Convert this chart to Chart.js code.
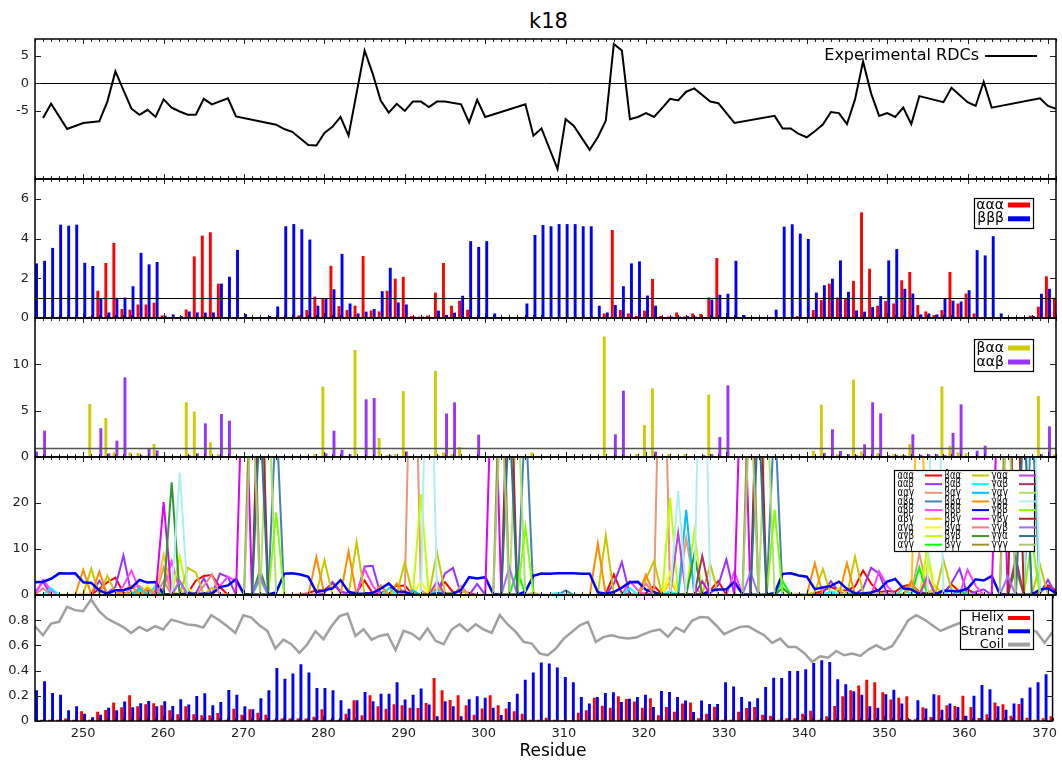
<!DOCTYPE html>
<html>
<head>
<meta charset="utf-8">
<script src="https://cdn.jsdelivr.net/npm/chart.js@4.4.1/dist/chart.umd.min.js"></script>
<style>
body { margin: 0; background: #fff; width: 1062px; height: 760px; position: relative; overflow: hidden; font-family: 'DejaVu Sans', sans-serif; }
.panel { position: absolute; left: 0; width: 1062px; }
#title { position: absolute; top: 8px; left: 0; width: 1097px; text-align: center; font-size: 21px; line-height: 26px; color: #000; }
#xlabel { position: absolute; top: 739px; left: 0; width: 1106px; text-align: center; font-size: 17px; line-height: 22px; color: #000; }
</style>
</head>
<body>
<div id="title">k18</div>
<div class="panel" style="top:29px;height:160px"><canvas id="p1"></canvas></div>
<div class="panel" style="top:169px;height:159px"><canvas id="p2"></canvas></div>
<div class="panel" style="top:308px;height:159px"><canvas id="p3"></canvas></div>
<div class="panel" style="top:447px;height:158px"><canvas id="p4"></canvas></div>
<div class="panel" style="top:585px;height:175px"><canvas id="p5"></canvas></div>
<div id="xlabel">Residue</div>
<script>
// residues 244..371
const residues = Array.from({length: 128}, (_, i) => 244 + i);
const xTicks = [250, 260, 270, 280, 290, 300, 310, 320, 330, 340, 350, 360, 370];

// panel 1: experimental RDCs (null = no measurement)
const rdc = [
  null, -6.3, -3.7, null, -8.3, null, -7.2, null, -6.9, -3.3,
  2.2, -1.2, -4.6, -5.7, -4.8, -6.1, -2.9, -4.4, -5.1, -5.7,
  -5.7, -2.8, -3.8, null, -2.7, -6.0, null, null, null, null,
  -7.5, -8.3, -8.8, null, -11.2, -11.3, -9.0, -7.9, -6.1, -9.5,
  null, 6.0, 1.8, -3.1, -5.3, -3.7, -5.0, -3.3, -3.3, -4.3,
  -3.3, -3.3, null, -3.8, -7.1, -3.0, -6.1, null, null, null,
  null, -3.8, -9.5, -8.2, null, -15.6, -6.5, -7.7, null, -12.1,
  -9.8, -6.8, 7.2, 6.0, -6.5, -6.1, -5.4, -6.1, -4.5, -2.8,
  -3.1, -1.5, -0.9, -2.1, -3.3, -3.6, null, -7.2, null, null,
  null, null, -5.9, -8.2, -8.2, -9.2, -9.8, -8.7, -7.5, -5.2,
  -5.4, -7.4, -2.9, 4.0, -1.8, -5.9, -5.4, -6.1, -4.4, -7.4,
  -2.3, null, null, -3.4, -0.8, null, -3.4, -4.1, 0.3, -4.4,
  null, null, null, null, null, -2.7, -4.1, -4.6
];

// panel 2
const aaa = [
  0, 0.02, 0.02, 0.02, 0.02, 0.02, 0.05, 0.07, 1.37, 2.77,
  3.78, 0.45, 0.42, 0.68, 0.68, 0.77, 0.13, 0.03, 0.03, 0.43,
  3.1, 4.15, 4.32, 1.73, 0.02, 0.02, 0.02, 0.03, 0.03, 0.02,
  0.02, 0.02, 0.02, 0.13, 0.4, 1.08, 1.0, 2.63, 0.6, 0.4,
  0.62, 3.12, 0.38, 0.33, 1.37, 1.98, 2.07, 0.1, 0.07, 0.12,
  1.28, 2.77, 0.62, 0.87, 0.42, 0.02, 0.02, 0.02, 0.02, 0.02,
  0.02, 0.02, 0.02, 0.02, 0.02, 0.02, 0.02, 0.02, 0.02, 0.02,
  0.05, 0.23, 4.43, 0.4, 0.23, 0.1, 0.37, 1.97, 0.1, 0.07,
  0.28, 0.07, 0.23, 0.2, 1.03, 3.02, 0.02, 0.02, 0.02, 0.02,
  0.02, 0.02, 0.02, 0.02, 0.02, 0.1, 0.05, 0.4, 0.9, 1.73,
  1.03, 0.98, 1.87, 5.32, 2.48, 0.62, 0.85, 0.73, 1.9, 2.32,
  0.65, 0.33, 0.15, 0.4, 2.32, 0.73, 1.23, 0.23, 0.02, 0.02,
  0.02, 0.02, 0.02, 0.05, 0.12, 0.57, 2.1, 1.02
];
const bbb = [
  2.75, 2.88, 3.53, 4.7, 4.65, 4.7, 2.78, 2.62, 0.98, 0.28,
  1.02, 1.03, 1.6, 3.28, 2.7, 2.82, 0.12, 0.18, 0.1, 0.33,
  0.28, 0.27, 0.28, 1.73, 2.08, 3.43, 0.2, 0.03, 0.03, 0.1,
  0.58, 4.62, 4.73, 4.47, 3.95, 0.62, 1.0, 1.45, 3.23, 0.73,
  0.23, 0.32, 0.45, 1.35, 2.53, 0.78, 0.68, 0.07, 0.07, 0.03,
  0.37, 0.15, 0.27, 1.12, 3.87, 3.58, 3.87, 0.23, 0.03, 0.03,
  0.05, 0.73, 4.18, 4.68, 4.62, 4.73, 4.73, 4.73, 4.62, 4.62,
  0.62, 0.28, 0.65, 1.6, 2.75, 2.85, 1.13, 0.62, 0.03, 0.07,
  0.07, 0.1, 0.07, 0.03, 0.93, 1.17, 1.22, 2.88, 0.15, 0.03,
  0.03, 0.05, 0.42, 4.6, 4.72, 4.25, 3.98, 1.28, 1.65, 1.98,
  2.9, 1.32, 0.38, 0.32, 0.55, 1.1, 2.9, 3.47, 1.47, 1.23,
  0.18, 0.23, 0.18, 0.98, 0.87, 0.83, 1.4, 3.42, 3.15, 4.12,
  0.23, 0.03, 0.03, 0.05, 0.1, 1.22, 1.47, 0.4
];

// panel 3
const baa = [
  0, 0, 0.05, 0.05, 0.05, 0.05, 0.14, 5.72, 0.05, 4.2,
  0.5, 0.05, 0.5, 0.43, 0.15, 1.4, 0.05, 0.05, 0.05, 5.9,
  4.9, 0.05, 1.58, 0.3, 0.05, 0.05, 0.05, 0.05, 0.05, 0.05,
  0.05, 0.05, 0.05, 0.05, 0.14, 0.3, 7.6, 0.05, 0.1, 0.05,
  11.55, 0.05, 0.05, 2.05, 0.2, 0.3, 7.1, 0.05, 0.05, 0.05,
  9.3, 0.5, 0.3, 1.08, 0.05, 0.05, 0.05, 0.05, 0.05, 0.05,
  0.05, 0.05, 0.5, 0.05, 0.05, 0.05, 0.05, 0.05, 0.05, 0.05,
  0.05, 13.0, 0.05, 0.05, 0.05, 0.3, 3.45, 7.4, 0.05, 0.3,
  0.05, 0.3, 0.05, 0.05, 6.72, 0.05, 0.05, 0.05, 0.05, 0.05,
  0.05, 0.05, 0.05, 0.05, 0.05, 0.05, 0.05, 0.68, 5.65, 0.05,
  0.3, 0.05, 8.35, 0.6, 0.05, 0.43, 0.05, 0.3, 0.2, 1.4,
  0.1, 0.05, 0.05, 7.62, 1.22, 0.5, 0.4, 0.05, 0.05, 0.05,
  0.05, 0.05, 0.05, 0.05, 0.05, 6.58, 0.05, 0.3
];
const aab = [
  0.58, 2.84, 0.02, 0.02, 0.02, 0.02, 0.02, 0.02, 3.1, 0.4,
  1.76, 8.6, 0.05, 0.2, 0.94, 0.72, 0.14, 0.02, 0.02, 0.2,
  0.4, 3.63, 0.05, 4.64, 3.92, 0.02, 0.02, 0.02, 0.02, 0.02,
  0.02, 0.02, 0.02, 0.02, 0.02, 0.02, 0.4, 2.84, 0.76, 0.3,
  0.05, 6.22, 6.37, 0.05, 0.2, 0.05, 0.6, 0.02, 0.02, 0.02,
  0.15, 4.7, 5.9, 0.05, 0.02, 2.41, 0.02, 0.02, 0.02, 0.02,
  0.02, 0.02, 0.02, 0.02, 0.02, 0.02, 0.02, 0.02, 0.02, 0.02,
  0.02, 0.02, 2.45, 7.16, 0.02, 0.02, 0.02, 0.58, 0.02, 0.02,
  0.02, 0.02, 0.02, 0.2, 0.3, 2.16, 7.73, 0.02, 0.02, 0.02,
  0.02, 0.02, 0.02, 0.02, 0.02, 0.02, 0.02, 0.02, 0.43, 2.99,
  0.65, 0.3, 0.2, 1.37, 5.9, 4.7, 0.2, 0.2, 0.2, 2.45,
  0.25, 0.3, 0.3, 0.2, 2.6, 5.68, 0.05, 0.68, 1.22, 0.02,
  0.02, 0.02, 0.02, 0.02, 0.02, 0.3, 3.31, 0.02
];

// panel 4: remaining triplets, [residue, value] where the curve leaves zero
const aag = [[256,1.5],[257,2],[258,0.5],[260,6],[290,1],[291,80],[292,1],[297,2],[322,80],[325,12.4],[326,2],[354,9.1],[355,1]];
const aba = [[263,1],[274,40],[305,40],[310,1],[336,40],[368,40]];
const abb = [[245,3.3],[246,1],[255,2],[256,5.3],[257,1],[260,1.5],[261,7.3],[262,1],[267,2],[268,4.0],[269,3],[285,5.6],[286,2],[318,3],[319,1],[331,5.1],[349,5.1],[350,2],[360,5.5],[361,2]];
const abg = [[260,8.8],[261,1],[294,2],[323,3],[354,60],[356,2]];
const aga = [[258,2],[263,1.5],[292,3],[323,5],[355,8]];
const agb = [[262,8.4],[292,21.9],[323,21.2],[326,13.9],[344,1.5],[355,10]];
const agg = [[272,3.5],[304,5.5],[337,3],[354,6]];
const bab = [[246,1.5],[257,1],[259,2],[288,1.5],[294,1],[309,0.5],[318,1.5],[323,0.8],[343,0.8],[352,1.5],[358,1.2]];
const bag = [[257,1.5],[291,1],[325,18.5],[346,0.5],[359,1]];
const bba = [[250,5.5],[252,5.1],[255,1],[256,2],[258,1.5],[279,8.2],[283,9.5],[287,2],[289,2.5],[314,11.2],[320,4.4],[341,6.9],[345,6.9],[353,3],[355,4]];
const bbg = [[260,20.2],[270,60],[301,60],[327,3],[332,60],[364,60]];
const bga = [[245,1.5],[260,3],[265,2],[266,4.5],[320,2.5],[355,4]];
const bgb = [[261,24.5],[272,5.5],[326,8.8],[337,1.5],[366,6]];
const bgg = [[271,60],[302,60],[333,60],[365,60]];
const gaa = [[294,3],[324,13.5],[355,4]];
const gab = [[262,3],[327,8.5],[366,8]];
const gag = [[273,45],[304,45],[335,45],[367,45]];
const gba = [[262,26.6],[293,80],[324,22.6],[327,80],[356,80],[368,60]];
const gbb = [[274,17.9],[305,14.8],[336,18.5],[368,12]];
const gbg = [[272,60],[303,60],[334,60],[366,60]];
const ggb = [[262,3],[272,4],[303,6],[333,5],[365,4]];
const gga = [[272,40],[303,40],[334,40],[367,40]];
const ggg = [[271,45],[302,45],[333,45],[365,45]];

const tripletNames = ['ααα','ααβ','ααγ','αβα','αββ','αβγ','αγα','αγβ','αγγ',
                      'βαα','βαβ','βαγ','ββα','βββ','ββγ','βγα','βγβ','βγγ',
                      'γαα','γαβ','γαγ','γβα','γββ','γβγ','γγβ','γγα','γγγ'];
const tripletColors = ['#ff0000','#9933ff','#e9967a','#4682b4','#ff40ff','#ffc020','#ffff00','#c0ff00','#00ff00',
                       '#c8c800','#00ffff','#00bfff','#ff8c00','#0000ff','#dd00ff','#f08080','#2e9a2e','#a09028',
                       '#c040e0','#b03060','#b0e070','#afeeee','#80ff00','#b22222','#a070ff','#2f6f8f','#a8c878'];

// panel 5
const helix = [
  0.01, 0.01, 0.01, 0.01, 0.02, 0.01, 0.077, 0.01, 0.074, 0.087,
  0.146, 0.109, 0.204, 0.117, 0.132, 0.14, 0.125, 0.085, 0.053, 0.117,
  0.053, 0.045, 0.045, 0.064, 0.01, 0.098, 0.05, 0.093, 0.066, 0.05,
  0.01, 0.02, 0.02, 0.02, 0.02, 0.034, 0.093, 0.01, 0.01, 0.058,
  0.164, 0.045, 0.204, 0.117, 0.098, 0.132, 0.125, 0.106, 0.103, 0.143,
  0.342, 0.244, 0.167, 0.204, 0.125, 0.05, 0.1, 0.204, 0.125, 0.1,
  0.077, 0.058, 0.01, 0.01, 0.026, 0.01, 0.005, 0.005, 0.066, 0.085,
  0.185, 0.122, 0.106, 0.196, 0.175, 0.154, 0.106, 0.18, 0.045, 0.111,
  0.074, 0.138, 0.146, 0.021, 0.058, 0.114, 0.01, 0.01, 0.074, 0.103,
  0.111, 0.05, 0.042, 0.01, 0.021, 0.021, 0.058, 0.082, 0.01, 0.037,
  0.119, 0.196, 0.244, 0.281, 0.328, 0.307, 0.228, 0.17, 0.185, 0.196,
  0.013, 0.109, 0.032, 0.204, 0.125, 0.119, 0.201, 0.111, 0.024, 0.053,
  0.146, 0.132, 0.042, 0.135, 0.026, 0.01, 0.021, 0.037
];
const strand = [
  0.244, 0.315, 0.222, 0.209, 0.085, 0.117, 0.058, 0.029, 0.05, 0.106,
  0.085, 0.154, 0.109, 0.14, 0.159, 0.117, 0.156, 0.119, 0.172, 0.13,
  0.199, 0.22, 0.125, 0.151, 0.246, 0.209, 0.117, 0.093, 0.18, 0.244,
  0.421, 0.336, 0.376, 0.45, 0.384, 0.262, 0.262, 0.244, 0.164, 0.098,
  0.164, 0.23, 0.156, 0.217, 0.217, 0.307, 0.17, 0.209, 0.257, 0.13,
  0.037, 0.156, 0.117, 0.037, 0.172, 0.196, 0.185, 0.106, 0.048, 0.151,
  0.217, 0.328, 0.385, 0.464, 0.456, 0.424, 0.35, 0.307, 0.191, 0.138,
  0.191, 0.222, 0.228, 0.151, 0.177, 0.191, 0.209, 0.111, 0.238, 0.23,
  0.191, 0.162, 0.072, 0.162, 0.135, 0.135, 0.307, 0.273, 0.191, 0.154,
  0.18, 0.27, 0.344, 0.342, 0.397, 0.397, 0.41, 0.461, 0.482, 0.469,
  0.331, 0.291, 0.236, 0.209, 0.117, 0.106, 0.212, 0.249, 0.138, 0.013,
  0.164, 0.1, 0.212, 0.09, 0.138, 0.111, 0.042, 0.201, 0.286, 0.252,
  0.117, 0.09, 0.138, 0.18, 0.265, 0.307, 0.371, 0.1
];
const coil = [
  0.752, 0.68, 0.773, 0.787, 0.906, 0.88, 0.871, 0.964, 0.871, 0.813,
  0.779, 0.747, 0.699, 0.747, 0.715, 0.752, 0.726, 0.805, 0.787, 0.766,
  0.76, 0.742, 0.84, 0.8, 0.752, 0.699, 0.84, 0.821, 0.76, 0.715,
  0.575, 0.646, 0.609, 0.54, 0.609, 0.713, 0.649, 0.752, 0.832, 0.853,
  0.675, 0.728, 0.646, 0.675, 0.689, 0.562, 0.715, 0.694, 0.646, 0.734,
  0.636, 0.609, 0.726, 0.768, 0.713, 0.768, 0.726, 0.699, 0.84, 0.766,
  0.707, 0.628, 0.615, 0.535, 0.522, 0.575, 0.654, 0.707, 0.76, 0.787,
  0.628, 0.668, 0.681, 0.662, 0.654, 0.662, 0.689, 0.715, 0.726, 0.668,
  0.742, 0.707, 0.795, 0.826, 0.821, 0.76, 0.689, 0.72, 0.747, 0.752,
  0.715, 0.681, 0.62, 0.654, 0.588, 0.588, 0.54, 0.469, 0.514, 0.503,
  0.556, 0.522, 0.535, 0.517, 0.567, 0.601, 0.567, 0.596, 0.694, 0.8,
  0.84, 0.805, 0.76, 0.715, 0.742, 0.768, 0.79, 0.8, 0.78, 0.76,
  0.78, 0.8, 0.77, 0.74, 0.73, 0.707, 0.622, 0.707
];

function spread(pairs) {
  return residues.map(r => {
    const p = pairs.find(q => q[0] === r);
    return p ? p[1] : 0;
  });
}
const tripletValues = [aaa, aab, spread(aag), spread(aba), spread(abb), spread(abg), spread(aga), spread(agb), spread(agg),
                       baa, spread(bab), spread(bag), spread(bba), bbb, spread(bbg), spread(bga), spread(bgb), spread(bgg),
                       spread(gaa), spread(gab), spread(gag), spread(gba), spread(gbb), spread(gbg), spread(ggb), spread(gga), spread(ggg)];

Chart.defaults.font.family = "'DejaVu Sans', sans-serif";

// box, ticks on every residue, reference line
const framePlugin = {
  id: 'frame',
  afterDatasetsDraw(chart, args, o) {
    const {ctx, chartArea: a} = chart;
    const xs = chart.scales.x, ys = chart.scales.y;
    ctx.save();
    if (o.ref !== undefined && o.ref !== null) {
      const py = Math.round(ys.getPixelForValue(o.ref)) + 0.5;
      ctx.strokeStyle = o.refColor;
      ctx.lineWidth = o.refWidth;
      ctx.beginPath();
      ctx.moveTo(a.left, py);
      ctx.lineTo(a.right, py);
      ctx.stroke();
    }
    ctx.strokeStyle = '#222';
    ctx.lineWidth = 1;
    ctx.beginPath();
    residues.forEach(r => {
      const px = Math.round(xs.getPixelForValue(r)) + 0.5;
      const len = r % 10 === 0 ? 5 : 3;
      ctx.moveTo(px, a.top);
      ctx.lineTo(px, a.top + len);
      ctx.moveTo(px, a.bottom);
      ctx.lineTo(px, a.bottom - len);
    });
    ys.ticks.forEach(t => {
      const py = Math.round(ys.getPixelForValue(t.value)) + 0.5;
      ctx.moveTo(a.left, py);
      ctx.lineTo(a.left + 6, py);
      ctx.moveTo(a.right, py);
      ctx.lineTo(a.right - 6, py);
    });
    ctx.stroke();
    ctx.strokeStyle = '#000';
    ctx.lineWidth = 1.5;
    ctx.strokeRect(a.left, a.top, a.right - a.left, a.bottom - a.top);
    ctx.restore();
  }
};

// gnuplot style key: right aligned text then a sample
const keyPlugin = {
  id: 'key',
  afterDraw(chart, args, o) {
    if (!o.rowY) return;
    const ctx = chart.ctx;
    const dy = o.canvasTop;
    ctx.save();
    if (o.box) {
      ctx.fillStyle = '#fff';
      ctx.fillRect(o.box[0], o.box[1] - dy, o.box[2], o.box[3]);
      ctx.strokeStyle = '#000';
      ctx.lineWidth = 1.2;
      ctx.strokeRect(o.box[0] + 0.5, o.box[1] - dy + 0.5, o.box[2], o.box[3]);
    }
    ctx.font = o.font;
    ctx.textAlign = 'right';
    ctx.textBaseline = 'middle';
    chart.data.datasets.forEach((ds, i) => {
      const col = Math.floor(i / o.rows), row = i % o.rows;
      const tx = o.textRight + col * o.colStep;
      const ty = o.rowY + row * o.rowStep - dy;
      ctx.fillStyle = '#000';
      if (o.maxW) ctx.fillText(ds.label, tx, ty, o.maxW);
      else ctx.fillText(ds.label, tx, ty);
      ctx.strokeStyle = ds.keyColor || ds.borderColor;
      ctx.lineWidth = o.thick;
      ctx.beginPath();
      ctx.moveTo(tx + o.gap, ty);
      ctx.lineTo(tx + o.gap + o.len, ty);
      ctx.stroke();
    });
    ctx.restore();
  }
};

function makePanel(id, p) {
  return new Chart(document.getElementById(id), {
    type: p.type,
    data: {labels: residues, datasets: p.datasets},
    plugins: [framePlugin, keyPlugin],
    options: {
      responsive: true,
      maintainAspectRatio: false,
      animation: false,
      devicePixelRatio: 1,
      events: [],
      layout: {padding: {left: 0, right: 6, top: 10, bottom: p.last ? 0 : 10}},
      plugins: {
        legend: {display: false},
        tooltip: {enabled: false},
        frame: {ref: p.ref, refColor: p.refColor || '#000', refWidth: p.refWidth || 1},
        key: p.key
      },
      scales: {
        x: {
          type: 'linear', min: 244, max: 371, offset: false, display: !!p.last,
          grid: {display: false, drawTicks: false}, border: {display: false},
          ticks: {padding: 5, color: '#222', font: {size: 13}, maxRotation: 0},
          afterBuildTicks: s => { s.ticks = xTicks.map(v => ({value: v})); },
          afterFit: s => { s.height = p.last ? 39 : 0; }
        },
        y: {
          min: p.min, max: p.max,
          grid: {display: false, drawTicks: false}, border: {display: false},
          ticks: {padding: 6, color: '#222', font: {size: 13}},
          afterBuildTicks: s => { s.ticks = p.yTicks.map(v => ({value: v})); },
          afterFit: s => { s.width = 35; s.paddingTop = 0; s.paddingBottom = 0; }
        }
      }
    }
  });
}

function bars(label, data, color) {
  return {label, data, backgroundColor: color, borderColor: color, borderWidth: 0,
          categoryPercentage: 0.76, barPercentage: 0.95};
}

makePanel('p1', {
  type: 'line', min: -17.4, max: 8.1, yTicks: [-5, 0, 5], ref: 0,
  datasets: [{label: 'Experimental RDCs', data: rdc, borderColor: '#000', borderWidth: 2,
              pointRadius: 0, tension: 0, spanGaps: true}],
  key: {canvasTop: 29, rowY: 56, rows: 1, rowStep: 0, colStep: 0, textRight: 979,
        font: "16px 'DejaVu Sans'", gap: 6, len: 52, thick: 2}
});

makePanel('p2', {
  type: 'bar', min: 0, max: 7, yTicks: [0, 2, 4, 6], ref: 1,
  datasets: [bars('ααα', aaa, '#ff0000'), bars('βββ', bbb, '#0000ff')],
  key: {canvasTop: 169, box: [974, 198, 59, 30], rowY: 205, rows: 2, rowStep: 13.8, colStep: 0,
        textRight: 1004, font: "14px 'DejaVu Sans'", gap: 4, len: 22, thick: 5}
});

makePanel('p3', {
  type: 'bar', min: 0, max: 15, yTicks: [0, 5, 10], ref: 1, refColor: '#555', refWidth: 1.3,
  datasets: [bars('βαα', baa, '#cccc00'), bars('ααβ', aab, '#9933ff')],
  key: {canvasTop: 308, box: [974, 339, 59, 32], rowY: 348, rows: 2, rowStep: 14, colStep: 0,
        textRight: 1004, font: "14px 'DejaVu Sans'", gap: 4, len: 22, thick: 5}
});

makePanel('p4', {
  type: 'line', min: 0, max: 30, yTicks: [0, 10, 20],
  datasets: tripletNames.map((name, i) => ({
    label: name, data: tripletValues[i], borderColor: tripletColors[i],
    borderWidth: name === 'βββ' ? 2.5 : 2, pointRadius: 0, tension: 0, order: -i
  })),
  key: {canvasTop: 447, box: [894, 470, 140, 81], rowY: 475.5, rows: 9, rowStep: 8.65, colStep: 47,
        textRight: 914, maxW: 16.5, font: "12px 'DejaVu Sans'", gap: 11, len: 17, thick: 2}
});

makePanel('p5', {
  type: 'bar', min: 0, max: 1, yTicks: [0, 0.2, 0.4, 0.6, 0.8], last: true,
  datasets: [
    bars('Helix', helix, '#ff0000'),
    bars('Strand', strand, '#0000ff'),
    {type: 'line', label: 'Coil', data: coil, borderColor: '#a0a0a0', borderWidth: 2.5,
     pointRadius: 0, tension: 0}
  ],
  key: {canvasTop: 585, box: [960, 610, 73, 39], rowY: 618, rows: 3, rowStep: 13.3, colStep: 0,
        textRight: 1004, font: "13px 'DejaVu Sans'", gap: 4, len: 22, thick: 4}
});
</script>
</body>
</html>
